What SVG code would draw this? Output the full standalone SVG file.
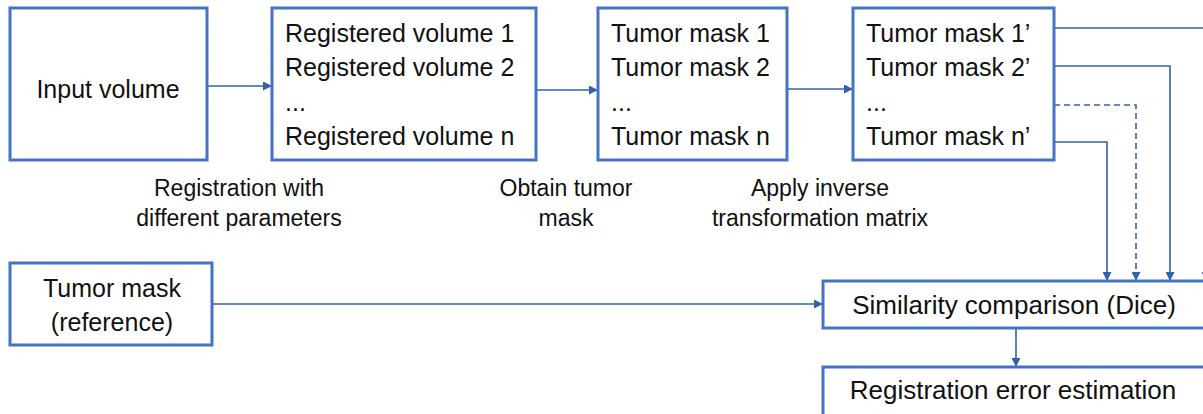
<svg xmlns="http://www.w3.org/2000/svg" width="1203" height="414" viewBox="0 0 1203 414">
<defs>
<marker id="ah" viewBox="0 0 10 10" refX="10" refY="5" markerWidth="9" markerHeight="9" markerUnits="userSpaceOnUse" orient="auto">
<path d="M0,0 L10,5 L0,10 z" fill="#3461ab"/>
</marker>
<style>
.box{fill:#fff;stroke:#4472c4;stroke-width:3}
.t{font-family:"Liberation Sans",Arial,sans-serif;font-size:25px;fill:#111}
.w{font-size:26px}
.l{font-family:"Liberation Sans",Arial,sans-serif;font-size:23px;fill:#111;text-anchor:middle}
.c{fill:none;stroke:#3461ab;stroke-width:1.6;marker-end:url(#ah)}
.d{stroke-dasharray:6,4}
</style>
</defs>
<rect width="1203" height="414" fill="#fff"/>
<g id="connectors">
<path class="c" d="M207,86 L272,86"/>
<path class="c" d="M536,90 L598,90"/>
<path class="c" d="M787,89 L853,89"/>
<path class="c" d="M1054,28 L1206,28 L1206,281"/>
<path class="c" d="M1054,66 L1170,66 L1170,281"/>
<path class="c d" d="M1054,105 L1136,105 L1136,281"/>
<path class="c" d="M1054,142 L1107,142 L1107,281"/>
<path class="c" d="M212,304 L823,304"/>
<path class="c" d="M1016,328 L1016,367"/>
</g>
<g id="input">
<rect class="box" x="10" y="8" width="197" height="152"/>
<text class="t" x="108" y="98" text-anchor="middle">Input volume</text>
</g>
<g id="registered">
<rect class="box" x="272" y="8" width="264" height="152"/>
<text class="t" x="285" y="42">Registered volume 1</text>
<text class="t" x="285" y="76">Registered volume 2</text>
<text class="t" x="285" y="111">...</text>
<text class="t" x="285" y="145">Registered volume n</text>
</g>
<g id="masks">
<rect class="box" x="598" y="8" width="189" height="152"/>
<text class="t" x="611" y="42">Tumor mask 1</text>
<text class="t" x="611" y="76">Tumor mask 2</text>
<text class="t" x="611" y="111">...</text>
<text class="t" x="611" y="145">Tumor mask n</text>
</g>
<g id="masks-inv">
<rect class="box" x="853" y="8" width="201" height="152"/>
<text class="t" x="866" y="42">Tumor mask 1’</text>
<text class="t" x="866" y="76">Tumor mask 2’</text>
<text class="t" x="866" y="111">...</text>
<text class="t" x="866" y="145">Tumor mask n’</text>
</g>
<g id="labels">
<text class="l" x="239" y="196">Registration with</text>
<text class="l" x="239" y="226">different parameters</text>
<text class="l" x="566" y="196">Obtain tumor</text>
<text class="l" x="566" y="226">mask</text>
<text class="l" x="820" y="196">Apply inverse</text>
<text class="l" x="820" y="226">transformation matrix</text>
</g>
<g id="reference">
<rect class="box" x="10" y="263" width="202" height="82"/>
<text class="t" x="112" y="297" text-anchor="middle">Tumor mask</text>
<text class="t" x="112" y="331" text-anchor="middle">(reference)</text>
</g>
<g id="similarity">
<rect class="box" x="823" y="281" width="400" height="47"/>
<text class="t w" x="1014" y="314" text-anchor="middle">Similarity comparison (Dice)</text>
</g>
<g id="error">
<rect class="box" x="823" y="367" width="400" height="60"/>
<text class="t w" x="1013" y="399" text-anchor="middle">Registration error estimation</text>
</g>
</svg>
